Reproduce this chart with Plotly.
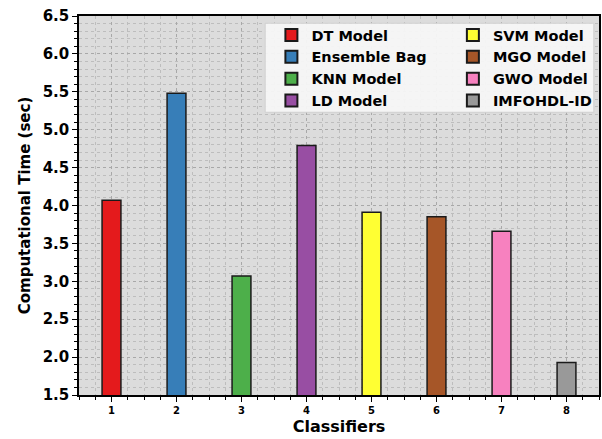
import plotly.graph_objects as go

classifiers = [1, 2, 3, 4, 5, 6, 7, 8]
models = ["DT Model", "Ensemble Bag", "KNN Model", "LD Model",
          "SVM Model", "MGO Model", "GWO Model", "IMFOHDL-ID"]
comp_time = [4.07, 5.48, 3.07, 4.79, 3.91, 3.85, 3.66, 1.93]
colors = ["#e41a1c", "#377eb8", "#4daf4a", "#984ea3",
          "#ffff33", "#a65628", "#f781bf", "#999999"]
y_ticks = [1.5, 2.0, 2.5, 3.0, 3.5, 4.0, 4.5, 5.0, 5.5, 6.0, 6.5]

fig = go.Figure()
for i, (x, name, val, col) in enumerate(zip(classifiers, models, comp_time, colors)):
    # first four models in the left legend column, the rest in the right one
    fig.add_trace(go.Bar(
        x=[x], y=[val], name=name, width=0.29,
        marker=dict(color=col, line=dict(color="#1a1a1a", width=1.5)),
        legend="legend" if i < 4 else "legend2",
    ))

font_family = "DejaVu Sans"
legend_font = dict(family=font_family, size=14.5, color="black", weight="bold")
legend_common = dict(
    orientation="v", yanchor="top", xanchor="left",
    bgcolor="rgba(0,0,0,0)", borderwidth=0,
    font=legend_font, itemsizing="constant", tracegroupgap=0,
)

fig.update_layout(
    width=602, height=439,
    margin=dict(l=79, r=1, t=16, b=44),
    paper_bgcolor="white",
    plot_bgcolor="#dcdcdc",
    barmode="overlay",
    font=dict(family=font_family, color="black"),
    showlegend=True,
    legend=dict(x=0.370, y=0.992, **legend_common),
    legend2=dict(x=0.719, y=0.992, **legend_common),
    # shared frame behind the two legend columns
    shapes=[dict(
        type="rect", xref="paper", yref="paper", layer="above",
        x0=0.358, x1=0.990, y0=0.746, y1=0.981,
        fillcolor="rgba(246,246,246,0.95)",
        line=dict(color="#d0d0d0", width=1),
    )],
)

fig.update_xaxes(
    range=[0.5, 8.5],
    tickmode="array", tickvals=classifiers, ticktext=[str(c) for c in classifiers],
    tickfont=dict(size=10, family=font_family, weight="bold"),
    ticks="outside", ticklen=5, tickcolor="black",
    showline=True, linecolor="black", linewidth=1.5, mirror=True,
    showgrid=True, gridcolor="#a8a8a8", griddash="dot", gridwidth=1,
    minor=dict(dtick=0.25, tick0=0.5, ticks="outside", ticklen=3, tickcolor="black",
               showgrid=True, gridcolor="#bdbdbd", griddash="dot", gridwidth=1),
    title=dict(text="Classifiers", font=dict(size=16, family=font_family, weight="bold"),
               standoff=6),
    zeroline=False,
)
fig.update_yaxes(
    range=[1.5, 6.5],
    tickmode="array", tickvals=y_ticks, ticktext=[f"{v:.1f}" for v in y_ticks],
    tickfont=dict(size=15, family=font_family, weight="bold"),
    ticks="outside", ticklen=5, tickcolor="black",
    showline=True, linecolor="black", linewidth=1.5, mirror=True,
    showgrid=True, gridcolor="#a8a8a8", griddash="dot", gridwidth=1,
    minor=dict(dtick=0.1, tick0=1.5, ticks="outside", ticklen=3, tickcolor="black",
               showgrid=True, gridcolor="#bdbdbd", griddash="dot", gridwidth=1),
    title=dict(text="Computational Time (sec)",
               font=dict(size=15, family=font_family, weight="bold"), standoff=8),
    zeroline=False,
)

fig.write_html("out.html")
